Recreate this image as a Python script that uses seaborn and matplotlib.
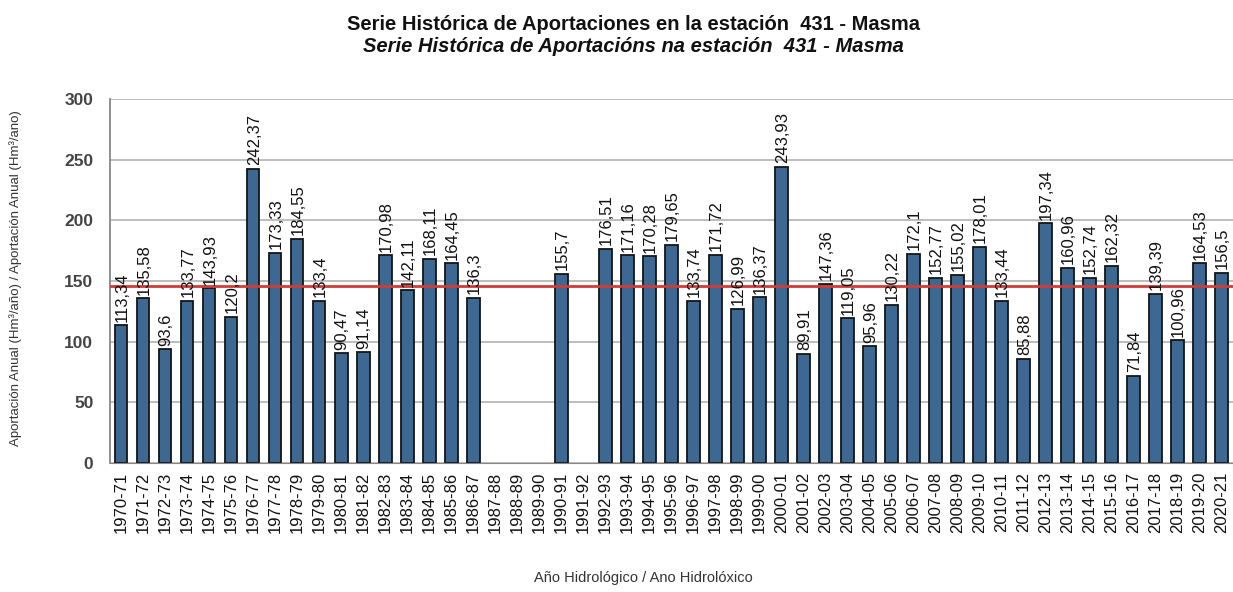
import matplotlib
matplotlib.use("Agg")
import matplotlib.pyplot as plt
import seaborn as sns
import numpy as np
import pandas as pd

# Datos (None = sin dato)
anos = [f"{y}-{str(y + 1)[-2:]}" for y in range(1970, 2021)]
aportaciones = [
    113.34, 135.58, 93.6, 133.77, 143.93, 120.2, 242.37, 173.33, 184.55, 133.4,
    90.47, 91.14, 170.98, 142.11, 168.11, 164.45, 136.3, None, None, None,
    155.7, None, 176.51, 171.16, 170.28, 179.65, 133.74, 171.72, 126.99, 136.37,
    243.93, 89.91, 147.36, 119.05, 95.96, 130.22, 172.1, 152.77, 155.02, 178.01,
    133.44, 85.88, 197.34, 160.96, 152.74, 162.32, 71.84, 139.39, 100.96, 164.53,
    156.5,
]

titulo_es = "Serie Histórica de Aportaciones en la estación  431 - Masma"
titulo_gl = "Serie Histórica de Aportacións na estación  431 - Masma"
etiqueta_y = "Aportación Anual (Hm³/año) / Aportación Anual (Hm³/ano)"
etiqueta_x = "Año Hidrológico / Ano Hidrolóxico"

df = pd.DataFrame({"ano": anos, "valor": aportaciones})
df["valor"] = df["valor"].astype(float)
media = df["valor"].mean()

sns.set_style("white")
plt.rcParams["font.family"] = ["Liberation Sans", "DejaVu Sans"]

fig = plt.figure(figsize=(12.33, 5.92), dpi=100)
ax = fig.add_axes([0.0892, 0.218, 0.9105, 0.615])

sns.barplot(
    data=df, x="ano", y="valor", order=anos,
    color="#3D6891", edgecolor="#151515", linewidth=1.3,
    width=0.58, saturation=1, ax=ax,
)

# Linea de la media
ax.axhline(media, color="#D23A35", linewidth=2, zorder=3)

# Etiquetas de valor sobre las barras
for i, v in enumerate(df["valor"]):
    if np.isnan(v):
        continue
    ax.text(i + 0.05, v + 3, f"{v:g}".replace(".", ","), rotation=90,
            ha="center", va="bottom", fontsize=12, color="#111111")

ax.set_xlim(-0.5, len(anos) - 0.5)
ax.set_ylim(0, 300)
ax.set_yticks(range(0, 301, 50))
ax.yaxis.grid(True, color="#B8B8B8", linewidth=1.3)
ax.set_axisbelow(True)
for s in ["top", "right"]:
    ax.spines[s].set_visible(False)
ax.spines["left"].set_color("#888888")
ax.spines["bottom"].set_color("#888888")
ax.spines["left"].set_linewidth(1.3)

ax.tick_params(axis="x", rotation=90, labelsize=12, length=3, color="#888888",
               labelcolor="#111111")
ax.tick_params(axis="y", labelsize=12.5, length=4, color="#888888",
               labelcolor="#444444", pad=8)
for lbl in ax.get_yticklabels():
    lbl.set_fontweight("bold")
ax.set_xlabel("")
ax.set_ylabel("")

fig.text(0.514, 0.958, titulo_es, ha="center", va="center",
         fontsize=14.5, fontweight="bold", color="#111111")
fig.text(0.514, 0.921, titulo_gl, ha="center", va="center",
         fontsize=14.5, fontweight="bold", style="italic", color="#111111")
fig.text(0.013, 0.53, etiqueta_y, rotation=90, ha="center", va="center",
         fontsize=9.5, color="#333333")
fig.text(0.522, 0.024, etiqueta_x, ha="center", va="center",
         fontsize=10.5, color="#333333")

fig.savefig("out.png", dpi=100)
